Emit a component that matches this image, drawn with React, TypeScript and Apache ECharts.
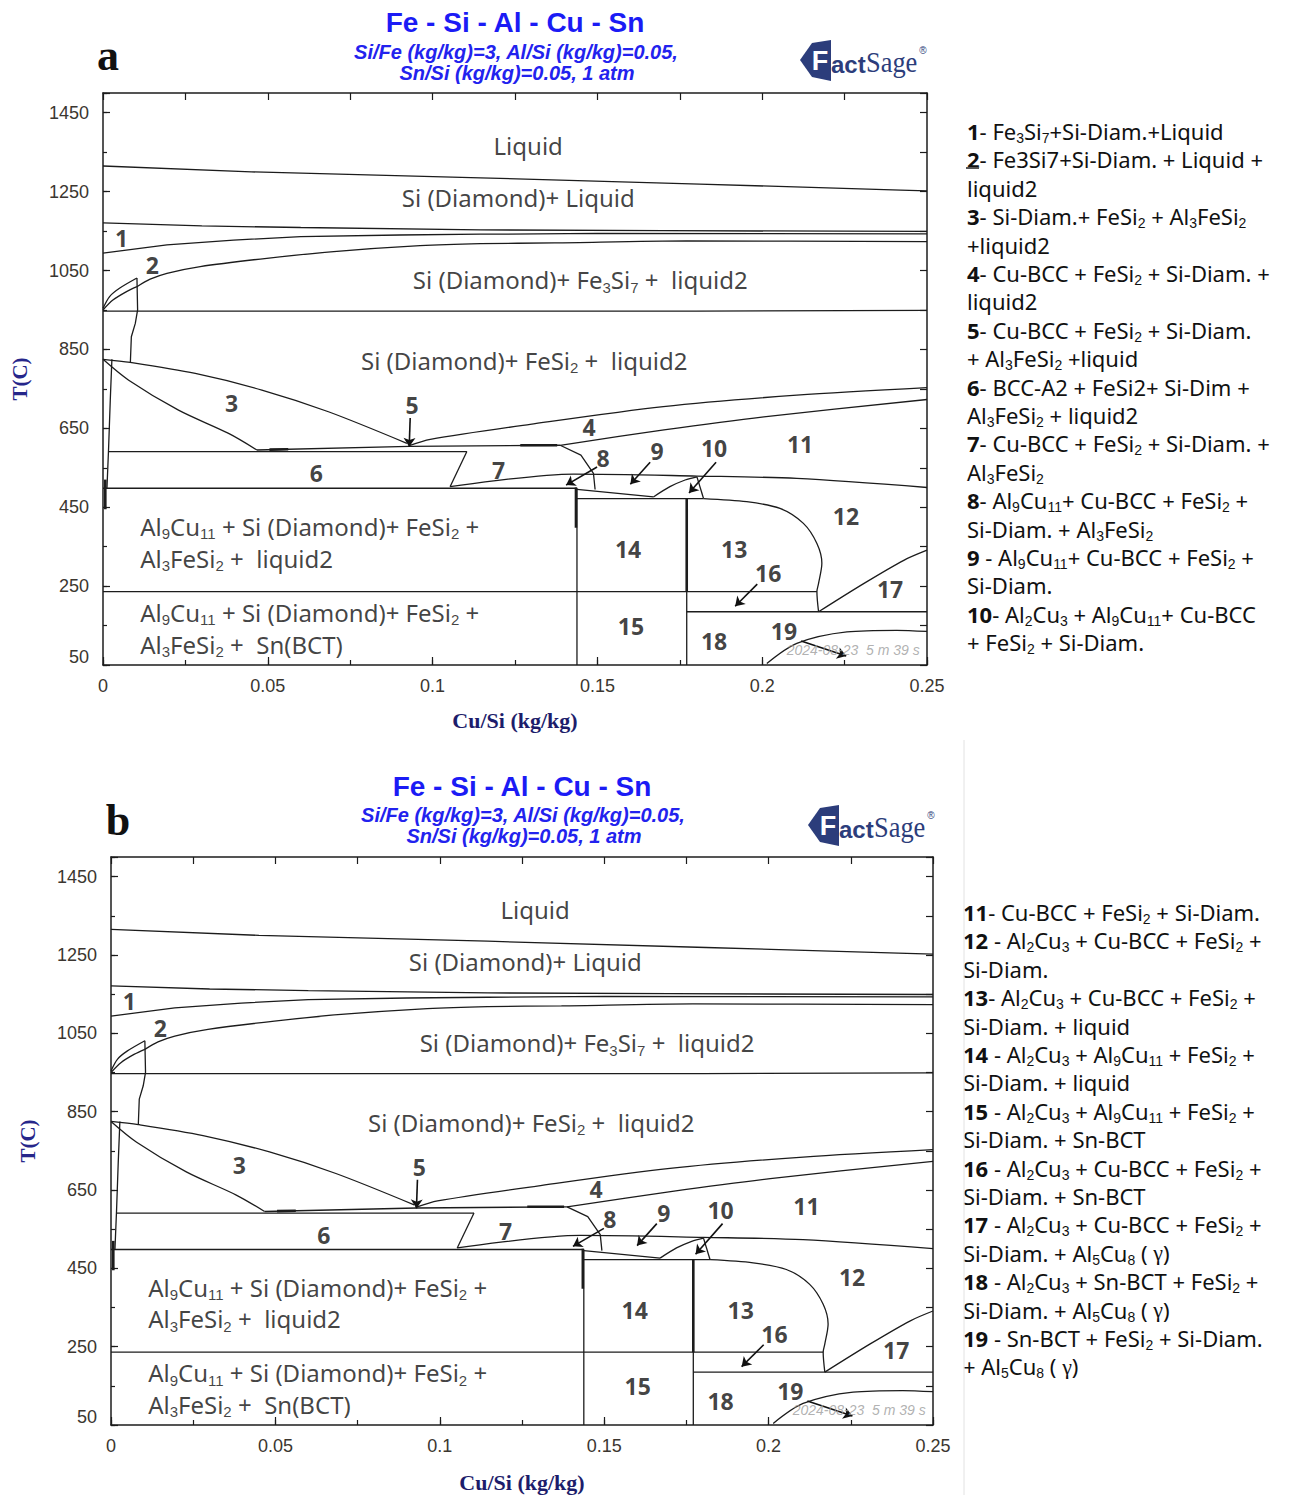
import React, { useEffect, useRef } from "react";
import * as echarts from "echarts";

// ---------- axis values ----------
const xRange = [0, 0.25];
const yRange = [50, 1500];
const yTickLabels = [50, 250, 450, 650, 850, 1050, 1250, 1450];

// ---------- phase boundaries [Cu/Si (kg/kg), T (C)] ----------
const liquidBoundary = [[0, 1315], [0.045, 1300], [0.1145, 1285], [0.181, 1269], [0.242, 1254], [0.25, 1252]];
const diamondLiquidLower = [[0, 1171], [0.03, 1163], [0.06, 1159], [0.1145, 1153], [0.17, 1151], [0.25, 1149]];
const region1Lower = [[0, 1094], [0.0194, 1115], [0.0396, 1127], [0.06, 1136], [0.09, 1140], [0.1145, 1142], [0.15, 1144], [0.25, 1143]];
const region2Outer = [[0, 954], [0.002, 984], [0.005, 1005], [0.0103, 1031]];
const region2Inner = [[0, 950], [0.003, 975], [0.007, 996], [0.0103, 1009]];
const fe3si7Upper = [[0.0103, 1009], [0.0143, 1028], [0.0194, 1043], [0.0295, 1060], [0.0497, 1081], [0.07, 1098], [0.0962, 1113], [0.1145, 1118], [0.137, 1120], [0.177, 1125], [0.25, 1123]];
const region2Right = [[0.0103, 1031], [0.0105, 950], [0.0098, 916], [0.0086, 882], [0.0083, 816]];
const fe3si7Lower = [[0, 947], [0.18, 947], [0.25, 949]];
const fesi2Liquidus = [[0, 825], [0.0083, 817], [0.028, 789], [0.0482, 747], [0.0684, 692], [0.0922, 612]];
const region3Left = [[0, 825], [0.0078, 772], [0.0229, 696], [0.0381, 637], [0.0467, 595]];
const shelf = [[0.0467, 595], [0.0929, 604], [0.1387, 607]];
const region4Upper = [[0.0929, 606], [0.0993, 622], [0.1296, 660], [0.17, 705], [0.2105, 734], [0.25, 753]];
const region4Lower = [[0.1387, 607], [0.1702, 646], [0.2005, 679], [0.25, 723]];
const region6Upper = [[0.0017, 591], [0.1104, 591]];
const region7Left = [[0.1104, 591], [0.1053, 502]];
const region7Lower = [[0.1053, 502], [0.1428, 534], [0.1802, 529], [0.2105, 523], [0.25, 500]];
const region8Right = [[0.1387, 607], [0.145, 582], [0.1488, 536], [0.1493, 495]];
const isotherm498 = [[0, 498], [0.1438, 498]];
const region9Lower = [[0.1438, 495], [0.167, 476]];
const isotherm472 = [[0.1438, 472], [0.1822, 472]];
const region10Left = [[0.167, 476], [0.172, 502], [0.1766, 519], [0.1802, 527]];
const region10Right = [[0.1802, 527], [0.1822, 472]];
const region12Boundary = [[0.1822, 472], [0.1953, 464], [0.2054, 447], [0.2125, 409], [0.2166, 358], [0.2181, 308], [0.2171, 257], [0.2166, 236], [0.2171, 185]];
const isotherm236 = [[0, 236], [0.2166, 236]];
const isotherm185 = [[0.1771, 185], [0.25, 185]];
const region14Left = [[0.1438, 498], [0.1438, 50]];
const region13Left = [[0.1771, 472], [0.1771, 50]];
const region17Lower = [[0.2171, 185], [0.2309, 257], [0.2431, 316], [0.25, 341]];
const region19Upper = [[0.2014, 54], [0.2105, 105], [0.2257, 134], [0.2408, 138], [0.25, 135]];
const leftEdgeLine = [[0.0027, 825], [0.0022, 720], [0.0017, 600], [0.0012, 498]];

const straightBoundaries = [liquidBoundary, diamondLiquidLower, fe3si7Lower, shelf, region6Upper, region7Left, region8Right, isotherm498, region9Lower, isotherm472, region10Right, isotherm236, isotherm185, region14Left, region13Left, leftEdgeLine, region2Right, region1Lower];
const curvedBoundaries = [region2Outer, region2Inner, fe3si7Upper, fesi2Liquidus, region3Left, region4Upper, region4Lower, region7Lower, region10Left, region12Boundary, region17Lower, region19Upper];
const heavySegments = [
  [[0.1435, 500], [0.1435, 398]],
  [[0.1771, 472], [0.1771, 236]],
  [[0.0007, 520], [0.0007, 445]],
  [[0.0505, 596], [0.0562, 597]],
  [[0.1266, 607], [0.1378, 607]],
];

// ---------- annotations [x, T, text] ----------
const fieldLabels: [number, number, string][] = [
  [0.129, 1366, "Liquid"],
  [0.126, 1234, "Si (Diamond)+ Liquid"],
  [0.1448, 1026, "Si (Diamond)+ Fe~3~Si~7~ +  liquid2"],
  [0.1278, 823, "Si (Diamond)+ FeSi~2~ +  liquid2"],
];
const lowFieldLabels: [number, number, string][] = [
  [0.0113, 402, "Al~9~Cu~11~ + Si (Diamond)+ FeSi~2~ +"],
  [0.0113, 321, "Al~3~FeSi~2~ +  liquid2"],
  [0.0113, 184, "Al~9~Cu~11~ + Si (Diamond)+ FeSi~2~ +"],
  [0.0113, 103, "Al~3~FeSi~2~ +  Sn(BCT)"],
];
const fieldNumbers: [number, number, string][] = [
  [0.0056, 1132, "1"], [0.015, 1064, "2"], [0.039, 714, "3"], [0.1475, 653, "4"], [0.0938, 709, "5"],
  [0.0647, 536, "6"], [0.12, 544, "7"], [0.1517, 575, "8"], [0.1681, 592, "9"], [0.1854, 600, "10"],
  [0.2115, 610, "11"], [0.2254, 427, "12"], [0.1915, 344, "13"], [0.1593, 344, "14"], [0.1602, 149, "15"],
  [0.2018, 283, "16"], [0.2388, 242, "17"], [0.1854, 111, "18"], [0.2066, 136, "19"],
];
const pointerArrows = [
  [[0.0932, 676], [0.0929, 603]],
  [[0.1499, 552], [0.1405, 506]],
  [[0.166, 564], [0.16, 508]],
  [[0.186, 564], [0.1778, 486]],
  [[0.1985, 255], [0.1918, 199]],
  [[0.2118, 111], [0.2255, 73]],
];
const stampText = "2024-08-23  5 m 39 s";

const titleText = "Fe - Si - Al - Cu - Sn";
const subtitleLines = ["Si/Fe (kg/kg)=3, Al/Si (kg/kg)=0.05,", "Sn/Si (kg/kg)=0.05, 1 atm"];

const legendA = [
  "*1*- Fe~3~Si~7~+Si-Diam.+Liquid",
  "*2*- Fe3Si7+Si-Diam. + Liquid +",
  "liquid2",
  "*3*- Si-Diam.+ FeSi~2~ + Al~3~FeSi~2~",
  "+liquid2",
  "*4*- Cu-BCC + FeSi~2~ + Si-Diam. +",
  "liquid2",
  "*5*- Cu-BCC + FeSi~2~ + Si-Diam.",
  "+ Al~3~FeSi~2~ +liquid",
  "*6*- BCC-A2 + FeSi2+ Si-Dim +",
  "Al~3~FeSi~2~ + liquid2",
  "*7*- Cu-BCC + FeSi~2~ + Si-Diam. +",
  "Al~3~FeSi~2~",
  "*8*- Al~9~Cu~11~+ Cu-BCC + FeSi~2~ +",
  "Si-Diam. + Al~3~FeSi~2~",
  "*9* - Al~9~Cu~11~+ Cu-BCC + FeSi~2~ +",
  "Si-Diam.",
  "*10*- Al~2~Cu~3~ + Al~9~Cu~11~+ Cu-BCC",
  "+ FeSi~2~ + Si-Diam.",
];
const legendB = [
  "*11*- Cu-BCC + FeSi~2~ + Si-Diam.",
  "*12* - Al~2~Cu~3~ + Cu-BCC + FeSi~2~ +",
  "Si-Diam.",
  "*13*- Al~2~Cu~3~ + Cu-BCC + FeSi~2~ +",
  "Si-Diam. + liquid",
  "*14* - Al~2~Cu~3~ + Al~9~Cu~11~ + FeSi~2~ +",
  "Si-Diam. + liquid",
  "*15* - Al~2~Cu~3~ + Al~9~Cu~11~ + FeSi~2~ +",
  "Si-Diam. + Sn-BCT",
  "*16* - Al~2~Cu~3~ + Cu-BCC + FeSi~2~ +",
  "Si-Diam. + Sn-BCT",
  "*17* - Al~2~Cu~3~ + Cu-BCC + FeSi~2~ +",
  "Si-Diam. + Al~5~Cu~8~ ( γ)",
  "*18* - Al~2~Cu~3~ + Sn-BCT + FeSi~2~ +",
  "Si-Diam. + Al~5~Cu~8~ ( γ)",
  "*19* - Sn-BCT + FeSi~2~ + Si-Diam.",
  "+ Al~5~Cu~8~ ( γ)",
];

// ---------- layout ----------
const PANELS = [
  { left: 103, top: 93, width: 824, height: 572, nameGapX: 44, tag: "a", tagPos: [108, 55], titleY: [22, 52, 73], titleX: 516, logo: [800, 40], legendX: 967, legendY: 131, legend: legendA },
  { left: 111, top: 857, width: 822, height: 568, nameGapX: 46, tag: "b", tagPos: [118, 820], titleY: [786, 815, 836], titleX: 523, logo: [808, 805], legendX: 963, legendY: 912, legend: legendB },
];

const INK = "#1c1c1c";
const FONT = "Noto Sans";
const SUB_FONT = "Liberation Sans";

function toRich(src: string): string {
  return src
    .split(/(\*[^*]*\*|~[^~]*~|γ)/)
    .filter((t) => t.length > 0)
    .map((t) => {
      let style = "n";
      let body = t;
      if (t.startsWith("*")) { style = "b"; body = t.slice(1, -1); }
      else if (t.startsWith("~")) { style = "s"; body = t.slice(1, -1); }
      else if (t === "γ") { style = "g"; }
      return `{${style}|${body.replace(/ /g, "\u00A0")}}`;
    })
    .join("");
}

// subscripts: token with smaller lineHeight aligned to the bottom of the line box
const plotRich = {
  n: { fontSize: 24, lineHeight: 30, fontFamily: FONT, color: "#111" },
  s: { fontSize: 15, lineHeight: 17, verticalAlign: "bottom", fontFamily: SUB_FONT, color: "#111" },
  b: { fontSize: 23, lineHeight: 30, fontWeight: "bold", fontFamily: FONT, color: "#111" },
  g: { fontSize: 24, lineHeight: 30, fontFamily: "Liberation Serif", color: "#111" },
};
const legendRich = {
  n: { fontSize: 22, lineHeight: 28, fontFamily: FONT, fill: "#111", color: "#111" },
  s: { fontSize: 14, lineHeight: 17, verticalAlign: "bottom", fontFamily: SUB_FONT, fill: "#111", color: "#111" },
  b: { fontSize: 22, lineHeight: 28, fontWeight: "bold", fontFamily: FONT, fill: "#111", color: "#111" },
  g: { fontSize: 22, lineHeight: 28, fontFamily: "Liberation Serif", fill: "#111", color: "#111" },
};

function txt(x: number, y: number, text: string, opts: any = {}) {
  const align = opts.align || "center";
  return {
    type: "text",
    x,
    y,
    silent: true,
    scaleX: opts.scaleX || 1,
    style: {
      text,
      fill: opts.fill || "#111",
      fontSize: opts.fontSize || 16,
      fontFamily: opts.fontFamily || FONT,
      fontWeight: opts.fontWeight || "normal",
      fontStyle: opts.fontStyle || "normal",
      align,
      verticalAlign: "middle",
      textAlign: align,
      textVerticalAlign: "middle",
      rich: opts.rich,
    },
  };
}

function buildOption() {
  const grid: any[] = [];
  const xAxis: any[] = [];
  const yAxis: any[] = [];
  const series: any[] = [];
  const graphic: any[] = [];
  const axisLine = { show: true, onZero: false, lineStyle: { color: INK, width: 1.5 } };
  const tickStyle = { color: INK, width: 1.2 };
  const labelStyle = { fontSize: 18, color: "#3b3630", fontFamily: "Liberation Sans" };

  PANELS.forEach((p, pi) => {
    grid.push({ left: p.left, top: p.top, width: p.width, height: p.height, show: false });
    const base = pi * 3;
    xAxis.push({
      gridIndex: pi, type: "value", min: xRange[0], max: xRange[1], interval: 0.05, position: "bottom",
      axisLine, axisTick: { show: true, inside: true, length: 8, lineStyle: tickStyle },
      splitLine: { show: false },
      axisLabel: { show: true, margin: 12, ...labelStyle },
      name: "Cu/Si (kg/kg)", nameLocation: "middle", nameGap: p.nameGapX,
      nameTextStyle: { fontFamily: "Liberation Serif", fontWeight: "bold", fontSize: 22, color: "#1d1d6b" },
    });
    xAxis.push({
      gridIndex: pi, type: "value", min: xRange[0], max: xRange[1], interval: 0.025, position: "bottom",
      axisLine: { show: false }, axisTick: { show: true, inside: true, length: 5, lineStyle: tickStyle },
      splitLine: { show: false }, axisLabel: { show: false },
    });
    xAxis.push({
      gridIndex: pi, type: "value", min: xRange[0], max: xRange[1], interval: 0.025, position: "top",
      axisLine, axisTick: { show: true, inside: true, length: 7, lineStyle: tickStyle },
      splitLine: { show: false }, axisLabel: { show: false },
    });
    yAxis.push({
      gridIndex: pi, type: "value", min: yRange[0], max: yRange[1], interval: 200, position: "left",
      axisLine, axisTick: { show: true, inside: true, length: 7, lineStyle: tickStyle },
      splitLine: { show: false },
      axisLabel: {
        show: true, margin: 14, ...labelStyle,
        formatter: (v: number) => (yTickLabels.includes(v) ? (v === yTickLabels[0] ? `{lo|${v}}` : String(v)) : ""),
        rich: { lo: { ...labelStyle, padding: [0, 0, 16, 0] } },
      },
      name: "T(C)", nameLocation: "middle", nameGap: 73, nameRotate: 90,
      nameTextStyle: { fontFamily: "Liberation Serif", fontWeight: "bold", fontSize: 21, color: "#26268a" },
    });
    yAxis.push({
      gridIndex: pi, type: "value", min: yRange[0], max: yRange[1], interval: 100, position: "left",
      axisLine: { show: false }, axisTick: { show: true, inside: true, length: 4, lineStyle: tickStyle },
      splitLine: { show: false }, axisLabel: { show: false },
    });
    yAxis.push({
      gridIndex: pi, type: "value", min: yRange[0], max: yRange[1], interval: 100, position: "right",
      axisLine, axisTick: { show: true, inside: true, length: 7, lineStyle: tickStyle },
      splitLine: { show: false }, axisLabel: { show: false },
    });

    const lineBase = { type: "line", xAxisIndex: base, yAxisIndex: base, showSymbol: false, symbol: "none", silent: true, z: 3 };
    straightBoundaries.forEach((d) => series.push({ ...lineBase, data: d, lineStyle: { color: INK, width: 1.3 } }));
    curvedBoundaries.forEach((d) => series.push({ ...lineBase, data: d, smooth: 0.3, lineStyle: { color: INK, width: 1.3 } }));
    heavySegments.forEach((d) => series.push({ ...lineBase, data: d, lineStyle: { color: INK, width: 2.6 } }));

    series.push({
      ...lineBase, data: [],
      markLine: {
        silent: true, symbol: ["none", "arrow"], symbolSize: 9, animation: false,
        label: { show: false },
        lineStyle: { color: "#111", width: 1.6, type: "solid" },
        data: pointerArrows.map(([a, b]) => [{ coord: a }, { coord: b }]),
      },
    });

    const scatterBase = {
      type: "scatter", xAxisIndex: base, yAxisIndex: base, symbolSize: 1, silent: true, z: 5,
      itemStyle: { color: "rgba(0,0,0,0)" },
    };
    series.push({
      ...scatterBase,
      data: fieldLabels.map(([x, t, s]) => ({ value: [x, t], name: toRich(s) })),
      label: { show: true, position: "inside", formatter: (q: any) => q.name, rich: plotRich },
    });
    series.push({
      ...scatterBase,
      data: lowFieldLabels.map(([x, t, s]) => ({ value: [x, t], name: toRich(s) })),
      label: { show: true, position: "inside", align: "left", formatter: (q: any) => q.name, rich: plotRich },
    });
    series.push({
      ...scatterBase,
      data: fieldNumbers.map(([x, t, s]) => ({ value: [x, t], name: toRich(`*${s}*`) })),
      label: { show: true, position: "inside", formatter: (q: any) => q.name, rich: plotRich },
    });
    series.push({
      ...scatterBase,
      data: [{ value: [0.2478, 88], name: stampText }],
      label: {
        show: true, position: "inside", align: "right", formatter: (q: any) => q.name,
        fontSize: 14, fontStyle: "italic", color: "#9d9d9d", fontFamily: "Liberation Sans",
      },
    });

    graphic.push(txt(p.tagPos[0], p.tagPos[1], p.tag, { fontSize: 44, fontFamily: "Liberation Serif", fontWeight: "bold" }));
    graphic.push(txt(p.titleX - 1, p.titleY[0], titleText, { fontSize: 28, fontFamily: "Liberation Sans", fontWeight: "bold", fill: "#1b1bf5" }));
    graphic.push(txt(p.titleX, p.titleY[1], subtitleLines[0], { fontSize: 20, fontFamily: "Liberation Sans", fontWeight: "bold", fontStyle: "italic", fill: "#2222ee" }));
    graphic.push(txt(p.titleX + 1, p.titleY[2], subtitleLines[1], { fontSize: 20, fontFamily: "Liberation Sans", fontWeight: "bold", fontStyle: "italic", fill: "#2222ee" }));

    // FactSage logo
    const [lx, ly] = p.logo;
    graphic.push({
      type: "polygon", silent: true,
      shape: { points: [[lx, ly + 20], [lx + 12, ly + 3], [lx + 31, ly + 0], [lx + 31, ly + 41], [lx + 12, ly + 37]] },
      style: { fill: "#2c3d7b" },
    });
    graphic.push(txt(lx + 20, ly + 21, "F", { fontSize: 27, fontFamily: "Liberation Sans", fontWeight: "bold", fill: "#ffffff" }));
    graphic.push(txt(lx + 31, ly + 24, "act", { fontSize: 24, fontFamily: "Liberation Sans", fontWeight: "bold", fill: "#2c3d7b", align: "left" }));
    graphic.push(txt(lx + 66, ly + 22, "Sage", { fontSize: 30, fontFamily: "Liberation Serif", fill: "#2c3d7b", align: "left", scaleX: 0.88 }));
    graphic.push(txt(lx + 123, ly + 10, "®", { fontSize: 10, fontFamily: "Liberation Sans", fill: "#2c3d7b" }));

    p.legend.forEach((line, i) => {
      graphic.push(txt(p.legendX, p.legendY + i * 28.4, toRich(line), { align: "left", fontSize: 22, rich: legendRich }));
    });
  });

  graphic.push({ type: "line", silent: true, shape: { x1: 966, y1: 168, x2: 979, y2: 168 }, style: { stroke: "#555", lineWidth: 2 } });
  graphic.push({ type: "line", silent: true, shape: { x1: 964, y1: 740, x2: 964, y2: 1495 }, style: { stroke: "#e2e2e2", lineWidth: 1 } });

  return {
    animation: false,
    backgroundColor: "#ffffff",
    textStyle: { fontFamily: FONT },
    grid,
    xAxis,
    yAxis,
    series,
    graphic: { elements: graphic },
  };
}

export default function App() {
  const ref = useRef<HTMLDivElement>(null);
  useEffect(() => {
    if (!ref.current) return;
    const chart = echarts.init(ref.current, null, { renderer: "svg" });
    chart.setOption(buildOption() as any);
    return () => chart.dispose();
  }, []);
  return (
    <div
      ref={ref}
      style={{ position: "absolute", left: 0, top: 0, width: 1290, height: 1495, background: "#fff" }}
    />
  );
}
